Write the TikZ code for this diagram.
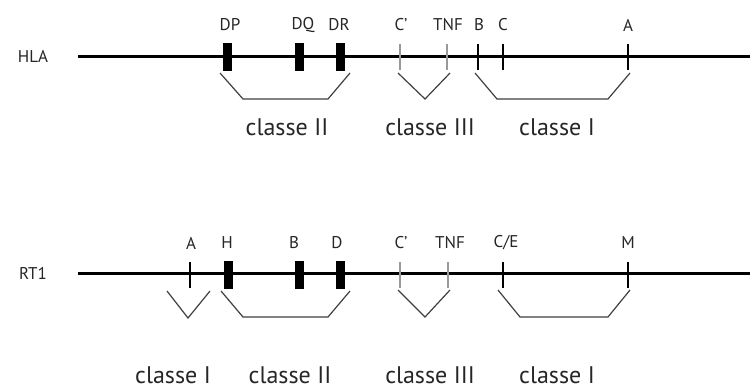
\documentclass[tikz,border=0pt]{standalone}
\usepackage{fontspec}
\setmainfont{PT Sans}
\definecolor{txt}{HTML}{262626}
\definecolor{brk}{HTML}{404040}
\definecolor{gtick}{HTML}{999999}
\begin{document}
\begin{tikzpicture}[x=1pt,y=-1pt,
  chrom/.style={line width=3pt,black},
  block/.style={rectangle,fill=black,inner sep=0pt,minimum width=9pt,minimum height=28pt},
  btick/.style={rectangle,fill=black,inner sep=0pt,minimum width=2.6pt,minimum height=26pt},
  gtickn/.style={rectangle,fill=gtick,inner sep=0pt,minimum width=2.6pt,minimum height=26pt},
  lbl/.style={text=txt,font=\fontsize{17}{20}\selectfont,inner sep=0pt},
  cls/.style={text=txt,font=\fontsize{24}{28}\selectfont,inner sep=0pt},
  brack/.style={draw=brk,line width=1.2pt}]
\path[use as bounding box,fill=white] (0,0) rectangle (750,389);

% ---------- HLA ----------
\node[lbl] (hla) at (33,56) {HLA};
\coordinate (hlaS) at (78,56);
\coordinate (hlaE) at (750,56);
\draw[chrom] (hlaS) -- (hlaE);
\node[block] (dp) at (227.5,57) {};
\node[block] (dq) at (299,57) {};
\node[block] (dr) at (340,57) {};
\node[gtickn] (cp1) at (400,57) {};
\node[gtickn] (tnf1) at (447,57) {};
\node[btick] (b1) at (478,57) {};
\node[btick] (c1) at (503,57) {};
\node[btick] (a1) at (628,57) {};
\node[lbl] at (230,25) {DP};
\node[lbl] at (303,25) {DQ};
\node[lbl] at (339,25) {DR};
\node[lbl] at (401,25) {C’};
\node[lbl] at (448,25) {TNF};
\node[lbl] at (479,25) {B};
\node[lbl] at (503,25) {C};
\node[lbl] at (628,25) {A};

\draw[brack] (220,73) -- (243,99) -- (328,99) -- (350,73);
\draw[brack] (398,73) -- (425,99) -- (450,73);
\draw[brack] (475,73) -- (497,99) -- (608,99) -- (630,73);
\node[cls] at (287,127) {classe II};
\node[cls] at (430,127) {classe III};
\node[cls] at (557,127) {classe I};

% ---------- RT1 ----------
\node[lbl] (rt1) at (33,273) {RT1};
\coordinate (rtS) at (78,273);
\coordinate (rtE) at (750,273);
\draw[chrom] (rtS) -- (rtE);
\node[btick] (a2) at (190,275) {};
\node[block] (h2) at (228,274.5) {};
\node[block] (b2) at (299,274.5) {};
\node[block] (d2) at (340,274.5) {};
\node[gtickn] (cp2) at (400,275) {};
\node[gtickn] (tnf2) at (448,275) {};
\node[btick] (ce2) at (503,275) {};
\node[btick] (m2) at (628,275) {};
\node[lbl] at (191,243) {A};
\node[lbl] at (227,243) {H};
\node[lbl] at (294,243) {B};
\node[lbl] at (337,243) {D};
\node[lbl] at (401,243) {C’};
\node[lbl] at (450,243) {TNF};
\node[lbl] at (506,243) {C/E};
\node[lbl] at (628,243) {M};

\draw[brack] (167,291) -- (188,318) -- (210,291);
\draw[brack] (221,291) -- (243,317) -- (328,317) -- (350,291);
\draw[brack] (398,290) -- (425,317) -- (450,290);
\draw[brack] (498,290) -- (520,317) -- (608,317) -- (630,290);
\node[cls] at (173,375) {classe I};
\node[cls] at (290,375) {classe II};
\node[cls] at (430,375) {classe III};
\node[cls] at (557,375) {classe I};
\end{tikzpicture}
\end{document}
